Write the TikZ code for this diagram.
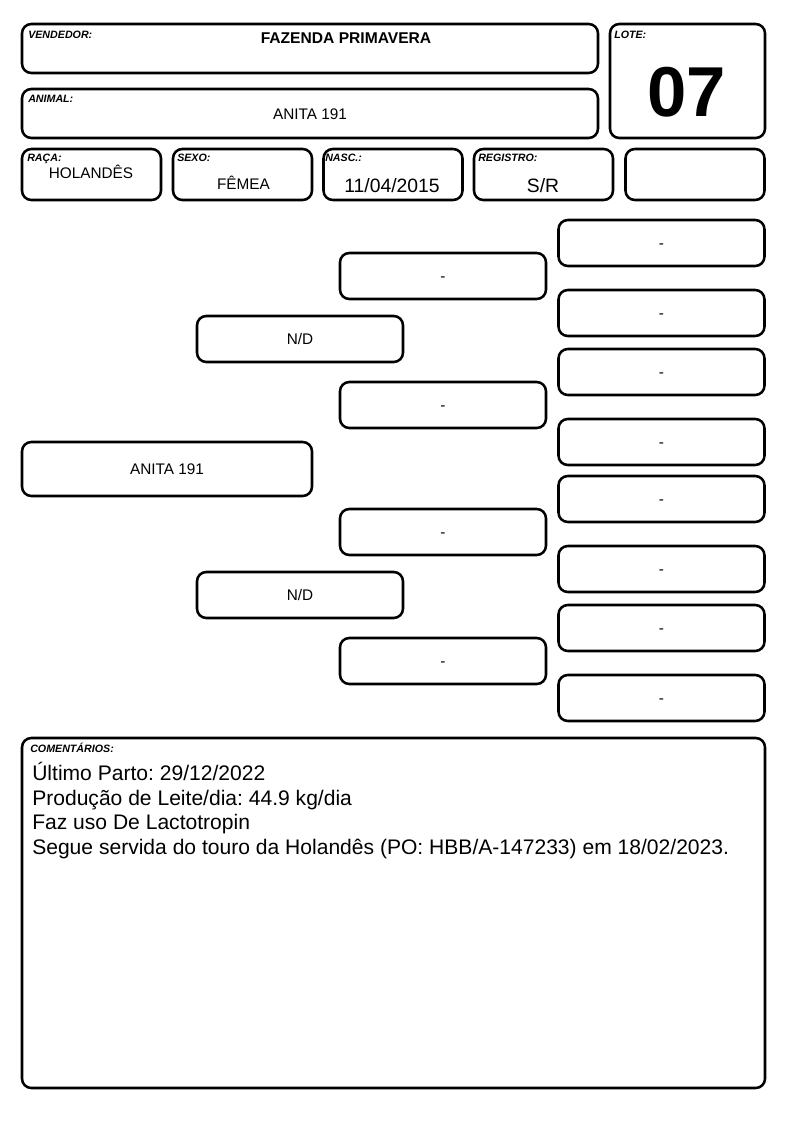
\documentclass[tikz,border=0pt]{standalone}
\usepackage{fontspec}
\setmainfont{Liberation Sans}
\usetikzlibrary{positioning}
\frenchspacing

\begin{document}
\begin{tikzpicture}[x=0.75pt,y=-0.75pt,
    caixa/.style={draw,line width=1.9pt,rounded corners=7pt,inner sep=0pt},
    rotulo/.style={font=\fontsize{8}{9}\selectfont\bfseries\itshape,inner sep=0pt,anchor=base west},
    valor/.style={font=\fontsize{11.5}{13}\selectfont,inner sep=0pt,anchor=base},
    dado/.style={caixa,minimum width=104.25pt,minimum height=38.25pt},
    ped/.style={caixa,minimum width=154.5pt,minimum height=34.5pt,text height=8.2pt,text depth=0pt,
      font=\fontsize{11.5}{13}\selectfont}]
  \useasboundingbox (0,0) rectangle (794,1123);

  % cabecalho
  \node[caixa,minimum width=432pt,minimum height=36.75pt] (vendedor) at (310,48.5) {};
  \node[rotulo] (vendedorR) at (28,39) {VENDEDOR:};
  \node[valor,font=\fontsize{11.7}{13}\selectfont\bfseries] (fazenda) at (346,43.3) {FAZENDA PRIMAVERA};

  \node[caixa,minimum width=116.25pt,minimum height=85.5pt] (lote) at (687.5,81) {};
  \node[rotulo] (loteR) at (614,38.5) {LOTE:};
  \node[valor,font=\fontsize{53}{60}\selectfont\bfseries] (loteN) at (687,116.7) {07};

  \node[caixa,minimum width=432pt,minimum height=36.75pt] (animal) at (310,113.5) {};
  \node[rotulo] (animalR) at (28,103) {ANIMAL:};
  \node[valor] (animalN) at (310,119.3) {ANITA 191};

  \node[dado] (raca) at (91.5,174.5) {};
  \node[rotulo] (racaR) at (27,161.7) {RAÇA:};
  \node[valor] (racaN) at (91,178.3) {HOLANDÊS};

  \node[dado] (sexo) at (242.5,174.5) {};
  \node[rotulo] (sexoR) at (177,162) {SEXO:};
  \node[valor] (sexoN) at (243.5,189.5) {FÊMEA};

  \node[dado] (nasc) at (393,174.5) {};
  \node[rotulo] (nascR) at (325,162) {NASC.:};
  \node[valor,font=\fontsize{14.5}{16}\selectfont] (nascN) at (392,192.7) {11/04/2015};

  \node[dado] (registro) at (543.5,174.5) {};
  \node[rotulo] (registroR) at (478,162) {REGISTRO:};
  \node[valor,font=\fontsize{14.5}{16}\selectfont] (registroN) at (543,192.7) {S/R};

  \node[dado] (extra) at (695,174.5) {};

  % genealogia
  \node[ped,minimum width=217.5pt,minimum height=40.5pt] (filho) at (167,469) {ANITA 191};
  \node[ped] (pai) at (300,339) {N/D};
  \node[ped] (mae) at (300,595) {N/D};
  \foreach \y [count=\i] in {276,405,532,661}
    \node[ped] (avo\i) at (443,\y) {-};
  \foreach \y [count=\i] in {243,313,372,442,499,569,628,698}
    \node[ped] (bisavo\i) at (661.5,\y) {-};

  % comentarios
  \node[caixa,minimum width=557.25pt,minimum height=262.5pt] (comentarios) at (393.5,913) {};
  \node[rotulo] (comentariosR) at (30,752.7) {COMENTÁRIOS:};
  \node[inner sep=0pt,anchor=north west,align=left,font=\fontsize{15.8}{18.4}\selectfont] (texto) at (32,762)
    {Último Parto: 29/12/2022\\
     Produção de Leite/dia: 44.9 kg/dia\\
     Faz uso De Lactotropin\\
     Segue servida do touro da Holandês (PO: HBB/A-147233) em 18/02/2023.};
\end{tikzpicture}
\end{document}
